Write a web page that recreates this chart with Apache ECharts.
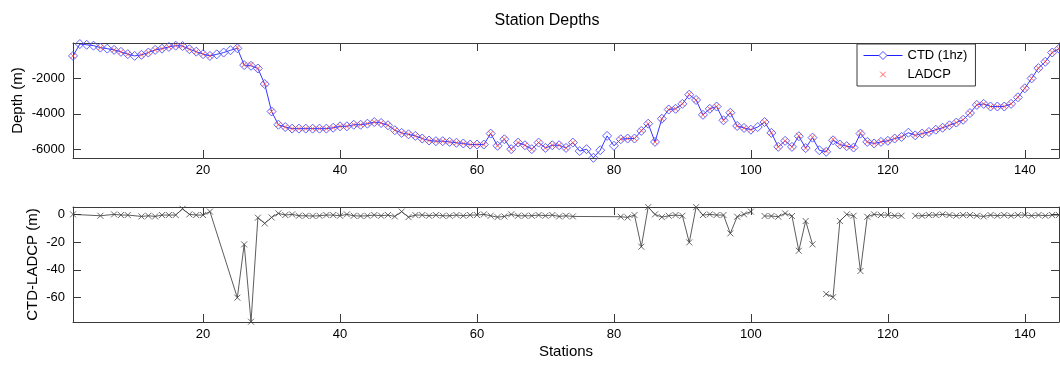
<!DOCTYPE html>
<html>
<head>
<meta charset="utf-8">
<script src="https://cdn.jsdelivr.net/npm/echarts@6/dist/echarts.min.js"></script>
<style>
html,body{margin:0;padding:0;background:#fff;}
#chart{width:1060px;height:365px;}
</style>
</head>
<body>
<div id="chart"></div>
<script>
// ---- data ----
const stationTicks = [20, 40, 60, 80, 100, 120, 140];
const depthTicks = [-6000, -4000, -2000];
const diffTicks = [-60, -40, -20, 0];

// CTD (1hz) bottom depth per station 1..145 (m)
const ctd = [
  -730, -60, -100, -150, -260, -320, -390, -500, -630, -730,
  -670, -540, -390, -320, -220, -150, -170, -350, -490, -630,
  -730, -640, -540, -410, -300, -1250, -1290, -1440, -2320, -3870,
  -4620, -4750, -4840, -4840, -4840, -4840, -4840, -4840, -4790, -4710,
  -4710, -4620, -4620, -4560, -4470, -4520, -4650, -4930, -5080, -5160,
  -5250, -5400, -5510, -5550, -5550, -5590, -5640, -5680, -5740, -5740,
  -5740, -5120, -5810, -5440, -6000, -5630, -5780, -6000, -5630, -5930,
  -5780, -5780, -5930, -5630, -6110, -6000, -6490, -6060, -5250, -5810,
  -5440, -5400, -5400, -4970, -4560, -5590, -4280, -3760, -3720, -3440,
  -2920, -3220, -4060, -3720, -3590, -4370, -3940, -4690, -4800, -4900,
  -4750, -4470, -5080, -5870, -5530, -5870, -5270, -5940, -5350, -6060,
  -6150, -5500, -5740, -5830, -5910, -5120, -5590, -5680, -5590, -5530,
  -5400, -5310, -5070, -5220, -5120, -5030, -4900, -4790, -4650, -4500,
  -4340, -3960, -3500, -3440, -3590, -3590, -3590, -3440, -3070, -2560,
  -2000, -1420, -1060, -540, -320
];

// CTD - LADCP per station (m); null where LADCP has no value
const diff = [
  0, null, null, null, -1, null, 0, -0.5, -0.5, null,
  -1.5, -1, -1.5, -0.5, -0.5, -0.5, 4, 0, -0.5, -0.5,
  2, null, null, null, -60, -21.6, -77.3, -2.4, -6.5, -2.2,
  0.7, -0.5, 0, -1, -1, -1.2, -1, -0.5, -0.5, -1,
  0, -1, -1.2, -1, -0.5, -1, -0.5, -1.5, 2, -2,
  -0.5, -0.5, -1, -0.5, -1, -1, -0.5, -1, -0.5, -0.5,
  0, -1, -2, -1.5, 0, -1, -1, -1, -0.5, -1,
  -0.5, -1.5, -1, -1.5, null, null, null, null, null, null,
  -1.7, -2.2, -0.5, -23.3, 5.2, 0, -2, -1, -0.5, -1,
  -20.2, 5.2, -0.5, 0, -0.5, -0.5, -13.7, -1.7, 0, 2,
  null, -1.2, -1.2, -1.7, 0.7, -1.2, -26.2, -4.8, -21.6, null,
  -57.3, -59.7, -4.8, 0, -1, -40.8, -1.7, 0, -0.5, -0.5,
  -1, -1, null, -1, -1, -0.5, -0.5, 0, -0.5, -1,
  -0.5, -0.5, -1, -1.5, -0.5, -1, -0.5, -1, -0.5, -0.5,
  -1, -0.5, -1, -0.5, -0.5
];

// stations where the difference line is broken in the reference
const lineBreaks = [101, 110, 123];

// ---- build series data ----
const stations = ctd.map((_, i) => i + 1);
const ctdData = stations.map((s, i) => [s, ctd[i]]);
const ladcpData = [];
const diffData = [];
stations.forEach((s, i) => {
  if (diff[i] !== null) {
    ladcpData.push([s, ctd[i] - diff[i]]);
    diffData.push([s, diff[i]]);
  } else if (lineBreaks.indexOf(s) >= 0) {
    diffData.push([s, '-']);
  }
});

const FONT = '"Liberation Sans", Arial, Helvetica, sans-serif';
const AX = '#3a3a3a';
const BLUE = '#1f1fff';
const DIAMOND = '#5050ff';
const RED = '#ff3a3a';
const X_SYM = 'path://M0,0L10,10M10,0L0,10';
const X_ICON = 'path://M2.2,2.2L7.8,7.8M7.8,2.2L2.2,7.8M0,0L0,0M10,10L10,10';
const plain = v => String(v);

function xAxisDef(grid, pos, showLabel, extra) {
  return Object.assign({
    type: 'value', gridIndex: grid, position: pos, min: 1, max: 145,
    nameMoveOverlap: false,
    axisLine: { show: true, onZero: false, lineStyle: { color: AX, width: 1 } },
    axisTick: { show: true, inside: true, length: 8, customValues: stationTicks, lineStyle: { color: AX } },
    axisLabel: { show: showLabel, customValues: stationTicks, formatter: plain, fontFamily: FONT, fontSize: 13, color: '#000', margin: 6 },
    splitLine: { show: false }
  }, extra || {});
}
function yAxisDef(grid, pos, min, max, ticks, showLabel, extra) {
  return Object.assign({
    type: 'value', gridIndex: grid, position: pos, min: min, max: max,
    nameMoveOverlap: false,
    axisLine: { show: true, onZero: false, lineStyle: { color: AX, width: 1 } },
    axisTick: { show: true, inside: true, length: 8, customValues: ticks, lineStyle: { color: AX } },
    axisLabel: { show: showLabel, customValues: ticks, formatter: plain, fontFamily: FONT, fontSize: 13, color: '#000', margin: 8 },
    splitLine: { show: false }
  }, extra || {});
}

const option = {
  animation: false,
  backgroundColor: '#fff',
  title: {
    text: 'Station Depths', left: 542, top: 8, textAlign: 'center',
    textStyle: { fontFamily: FONT, fontSize: 16, fontWeight: 'normal', color: '#000' }
  },
  legend: {
    left: 857, top: 44, orient: 'vertical',
    backgroundColor: '#fff', borderColor: AX, borderWidth: 1,
    padding: [5, 8, 5, 6], itemWidth: 39, itemHeight: 10, itemGap: 6,
    textStyle: { fontFamily: FONT, fontSize: 13, color: '#000' },
    lineStyle: { color: BLUE, width: 1 },
    data: [
      { name: 'CTD (1hz)',
        itemStyle: { color: '#fff', borderColor: DIAMOND, borderWidth: 1 },
        lineStyle: { color: BLUE, width: 1 } },
      { name: 'LADCP', icon: X_ICON,
        itemStyle: { color: 'rgba(0,0,0,0)', borderColor: RED, borderWidth: 1 } }
    ]
  },
  grid: [
    { left: 73, top: 43, width: 986, height: 115, outerBoundsMode: 'none' },
    { left: 73, top: 207, width: 986, height: 115, outerBoundsMode: 'none' }
  ],
  xAxis: [
    xAxisDef(0, 'bottom', true),
    xAxisDef(0, 'top', false),
    xAxisDef(1, 'bottom', true, {
      name: 'Stations', nameLocation: 'middle', nameGap: 22,
      nameTextStyle: { fontFamily: FONT, fontSize: 15, color: '#000' }
    }),
    xAxisDef(1, 'top', false)
  ],
  yAxis: [
    yAxisDef(0, 'left', -6500, 0, depthTicks, true, {
      name: 'Depth (m)', nameLocation: 'middle', nameGap: 48, nameRotate: 90,
      nameTextStyle: { fontFamily: FONT, fontSize: 15, color: '#000' }
    }),
    yAxisDef(0, 'right', -6500, 0, depthTicks, false),
    yAxisDef(1, 'left', -77.5, 5.3, diffTicks, true, {
      name: 'CTD-LADCP (m)', nameLocation: 'middle', nameGap: 33, nameRotate: 90,
      nameTextStyle: { fontFamily: FONT, fontSize: 15, color: '#000' }
    }),
    yAxisDef(1, 'right', -77.5, 5.3, diffTicks, false)
  ],
  series: [
    {
      name: 'CTD (1hz)', type: 'line', xAxisIndex: 0, yAxisIndex: 0,
      data: ctdData, symbol: 'diamond', symbolSize: 9, showAllSymbol: true,
      lineStyle: { color: BLUE, width: 0.9 },
      itemStyle: { color: 'rgba(0,0,0,0)', borderColor: DIAMOND, borderWidth: 0.9 },
      emphasis: { disabled: true }, z: 2
    },
    {
      name: 'LADCP', type: 'scatter', xAxisIndex: 0, yAxisIndex: 0,
      data: ladcpData, symbol: X_SYM, symbolSize: 5,
      itemStyle: { color: 'rgba(0,0,0,0)', borderColor: RED, borderWidth: 0.9 },
      emphasis: { disabled: true }, z: 3
    },
    {
      name: 'CTD-LADCP', type: 'line', xAxisIndex: 2, yAxisIndex: 2,
      data: diffData, connectNulls: false, symbol: X_SYM, symbolSize: 6, showAllSymbol: true,
      lineStyle: { color: '#333', width: 0.8 },
      itemStyle: { color: 'rgba(0,0,0,0)', borderColor: '#444', borderWidth: 0.8 },
      emphasis: { disabled: true }
    }
  ]
};

const chart = echarts.init(document.getElementById('chart'), null, { renderer: 'canvas' });
chart.setOption(option);
</script>
</body>
</html>
